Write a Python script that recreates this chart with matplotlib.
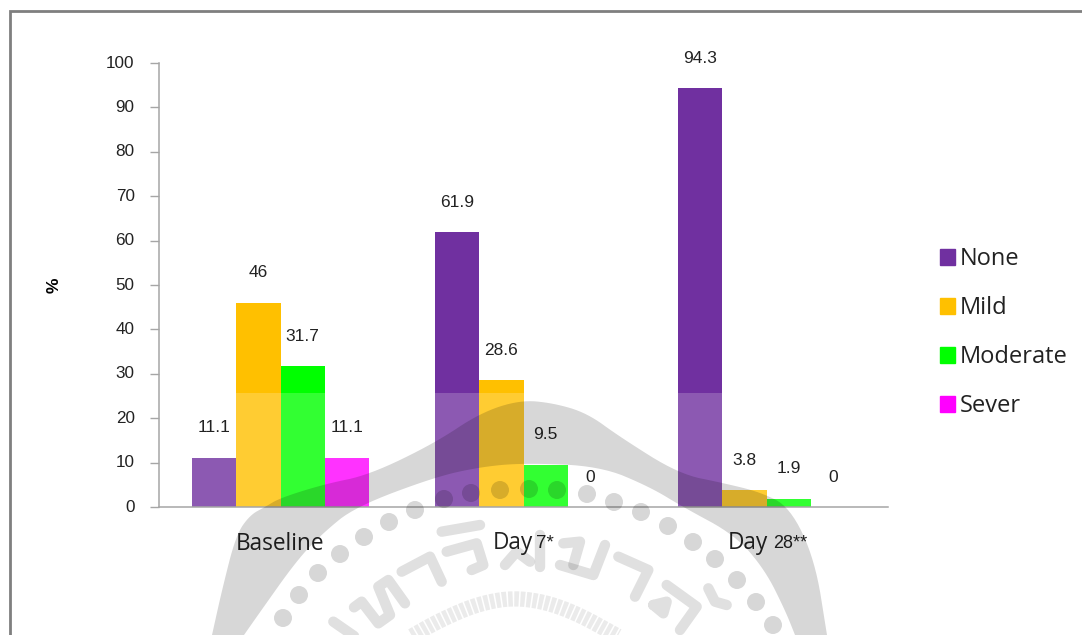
import numpy as np
import matplotlib
matplotlib.use("Agg")
import matplotlib.pyplot as plt
from matplotlib.patches import Polygon, Circle

# percentages per visit
categorias = ["Baseline", "Day 7", "Day 28"]
severidad = ["None", "Mild", "Moderate", "Sever"]
none_vals = [11.1, 61.9, 94.3]
mild_vals = [46, 28.6, 3.8]
moderate_vals = [31.7, 9.5, 1.9]
sever_vals = [11.1, 0, 0]
colores = ["#7030A0", "#FFC000", "#00FF00", "#FF00FF"]
y_ticks = [0, 10, 20, 30, 40, 50, 60, 70, 80, 90, 100]

W, H = 1082, 635
GRIS = "#A6A6A6"
FUENTE_NUM = "Liberation Sans"
FUENTE_TXT = "Open Sans"


def suavizar(puntos, n=3):
    # corner cutting, keeps the end points
    p = np.array(puntos, dtype=float)
    for _ in range(n):
        q = [p[0]]
        for a, b in zip(p[:-1], p[1:]):
            q.append(0.75 * a + 0.25 * b)
            q.append(0.25 * a + 0.75 * b)
        q.append(p[-1])
        p = np.array(q)
    return p


fig = plt.figure(figsize=(W / 100, H / 100), dpi=100, facecolor="white")
ax = fig.add_axes([159 / W, (H - 507) / H, 729 / W, 444 / H])
ax.set_xlim(0, 3)
ax.set_ylim(0, 100)

ancho = 0.1825
x = np.arange(len(categorias)) + 0.5
series = [none_vals, mild_vals, moderate_vals, sever_vals]
for i, vals in enumerate(series):
    pos = x + (i - 1.5) * ancho
    ax.bar(pos, vals, ancho, color=colores[i], zorder=2)
    for xi, v in zip(pos, vals):
        ax.annotate(str(v), (xi, v), xytext=(0, 21.5), textcoords="offset points",
                    ha="center", va="center", fontsize=12.5, color="#222222",
                    family=FUENTE_NUM, zorder=6)

# pale band across the lower part of the bars
ax.axhspan(0, 25.7, color="white", alpha=0.2, lw=0, zorder=2.5)

for lado in ["top", "right"]:
    ax.spines[lado].set_visible(False)
for lado in ["left", "bottom"]:
    ax.spines[lado].set_color(GRIS)
    ax.spines[lado].set_linewidth(1.1)
    ax.spines[lado].set_zorder(3)
ax.set_xticks([])
ax.set_yticks(y_ticks)
ax.tick_params(axis="y", length=6.5, width=1, color=GRIS, pad=11, labelsize=12.3,
               labelcolor="#222222")
for t in ax.get_yticklabels():
    t.set_family(FUENTE_NUM)
    t.set_verticalalignment("center")
ax.set_ylabel("%", fontsize=12.5, fontweight="bold", family=FUENTE_NUM)
ax.yaxis.set_label_coords(-0.134, 0.5)

# category names, the visit number is set smaller in another face
trans = ax.get_xaxis_transform()
ax.text(x[0], -0.083, categorias[0], transform=trans, ha="center", va="center",
        fontsize=16.3, family=FUENTE_TXT, color="#222222")
ax.annotate("Day", (x[1], 0), xycoords=trans, xytext=(6.5, -26), textcoords="offset points",
            ha="right", va="center", fontsize=16.3, family=FUENTE_TXT, color="#222222")
ax.annotate("7*", (x[1], 0), xycoords=trans, xytext=(9, -26.5), textcoords="offset points",
            ha="left", va="center", fontsize=13.5, family=FUENTE_NUM, color="#222222")
ax.annotate("Day", (x[2], 0), xycoords=trans, xytext=(1, -26), textcoords="offset points",
            ha="right", va="center", fontsize=16.3, family=FUENTE_TXT, color="#222222")
ax.annotate("28**", (x[2], 0), xycoords=trans, xytext=(4.5, -26.5), textcoords="offset points",
            ha="left", va="center", fontsize=13, family=FUENTE_NUM, color="#222222")

handles = [plt.Rectangle((0, 0), 1, 1, color=c) for c in colores]
fig.legend(handles, severidad, loc="center left", bbox_to_anchor=(940 / W, (H - 332.5) / H),
           frameon=False, handlelength=0.65, handleheight=0.65, borderaxespad=0, borderpad=0,
           handletextpad=0.2, labelspacing=1.06, labelcolor="#222222",
           prop={"family": FUENTE_TXT, "size": 17})

# pixel layer for the page frame and the seal printed over the chart
capa = fig.add_axes([0, 0, 1, 1], zorder=4)
capa.set_xlim(0, W)
capa.set_ylim(H, 0)
capa.axis("off")
capa.patch.set_alpha(0)

capa.plot([9.5, 9.5, W], [H, 10.5, 10.5], color="#7F7F7F", lw=2, solid_joinstyle="miter")

TINTA = (0, 0, 0, 0.157)
borde_ext = [(212, 635), (222, 590), (236, 535), (250, 515), (265, 507), (280, 498), (325, 484),
             (369, 475), (435, 443), (480, 413), (520, 400), (553, 403), (587, 413),
             (620, 437), (679, 474), (723, 483), (760, 492), (790, 507), (815, 560),
             (827, 635)]
borde_int = [(795, 635), (785, 610), (765, 570), (735, 535), (683, 507), (650, 487),
             (600, 466), (523, 463), (480, 467), (435, 477), (355, 507), (323, 533),
             (297, 560), (258, 615), (244, 635)]
contorno = np.vstack([suavizar(borde_ext), suavizar(borde_int)])
capa.add_patch(Polygon(contorno, closed=True, fc=TINTA, ec="none"))

puntos_x = [283, 299, 318, 340, 364, 389, 415, 444, 471, 500, 529, 557, 587, 614, 641,
            668, 693, 715, 737, 756, 773]
puntos_y = [618, 595, 573, 554, 537, 522, 510, 499, 493, 490, 489, 490, 494, 502, 512,
            526, 542, 559, 580, 602, 625]
for px, py in zip(puntos_x, puntos_y):
    capa.add_patch(Circle((px, py), 9, fc=TINTA, ec="none"))

# lettering of the seal, strokes on a grid three times finer than a pixel
trazos_a = [
    [(160, 395), (225, 440)],
    [(222, 352), (245, 335), (295, 400), (330, 375), (295, 290), (325, 270), (375, 340)],
    [(365, 245), (450, 200), (485, 275)],
    [(500, 185), (590, 160), (610, 225), (575, 240)],
    [(485, 125), (600, 105)],
]
trazos_b = [
    [(15, 225), (50, 185), (90, 215)],
    [(120, 135), (120, 230)],
    [(190, 160), (240, 155), (220, 225)],
    [(180, 225), (280, 255), (315, 165)],
    [(355, 200), (445, 240), (405, 320)],
    [(500, 285), (590, 350), (540, 420)],
    [(460, 345), (500, 335), (490, 370), (460, 345)],
    [(625, 295), (645, 335), (680, 345)],
]
for origen, trazos in [((280, 490), trazos_a), ((500, 490), trazos_b)]:
    for tr in trazos:
        p = np.array(tr, dtype=float) / 3 + origen
        capa.plot(p[:, 0], p[:, 1], color=(0, 0, 0, 0.12), lw=7.5, solid_capstyle="round",
                  solid_joinstyle="round")

anillo = suavizar([(405, 640), (440, 620), (480, 603), (520, 597), (567, 608), (625, 640)])
capa.plot(anillo[:, 0], anillo[:, 1], color=(0, 0, 0, 0.08), lw=11,
          dashes=(0.3, 0.1), solid_capstyle="butt")

plt.savefig("out.png", dpi=100)
